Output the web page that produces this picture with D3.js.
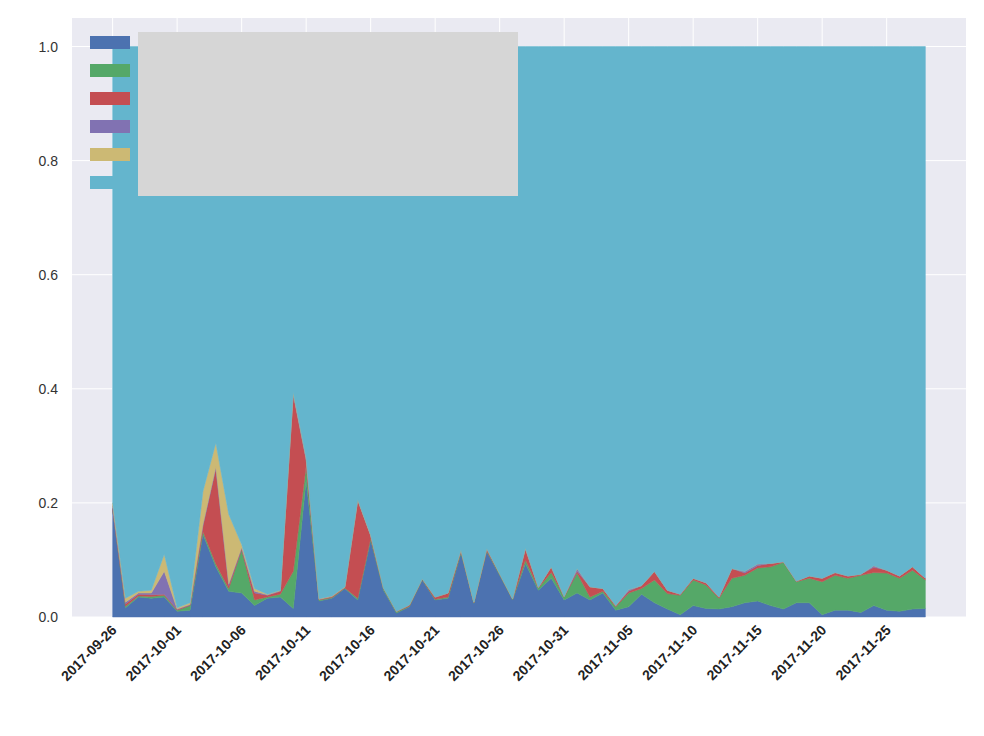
<!DOCTYPE html>
<html><head><meta charset="utf-8">
<script src="https://cdn.jsdelivr.net/npm/d3@7"></script>
<style>body{margin:0;background:#fff}</style></head>
<body><svg id="c" width="984" height="736"></svg>
<script>
const startDate = "2017-09-26";
const blue = [.19,.016,.035,.033,.035,.01,.012,.145,.088,.045,.042,.02,.033,.035,.015,.24,.028,.033,.05,.03,.135,.047,.007,.018,.065,.03,.033,.112,.024,.115,.073,.03,.094,.047,.068,.03,.042,.03,.042,.012,.018,.04,.025,.014,.004,.02,.015,.014,.018,.025,.028,.02,.014,.025,.025,.004,.012,.012,.008,.02,.012,.01,.014,.015];
const green = [0,.003,.002,.003,.003,.002,.008,.005,.005,.005,.076,.01,.002,.005,.065,.025,.002,.001,.001,.003,.003,.003,.002,.001,.001,.001,.002,.003,.001,.001,.002,.001,.006,.004,.01,.005,.035,.005,.003,.006,.024,.01,.04,.027,.034,.045,.041,.019,.05,.048,.058,.068,.082,.037,.043,.058,.061,.056,.065,.058,.065,.058,.068,.05];
const red = [0,.004,.003,.003,.002,.001,.001,.01,.167,.005,.002,.012,.003,.005,.31,.01,.001,.002,.001,.172,.005,.001,.001,.002,.001,.004,.007,.002,.001,.004,.001,.001,.02,.001,.01,.001,.003,.018,.005,.002,.003,.005,.015,.006,.002,.003,.004,.002,.017,.004,.004,.006,.001,.001,.004,.006,.005,.004,.002,.009,.005,.004,.006,.003];
const purple = [.005,.003,.002,.003,.04,.001,.001,.002,.003,.003,.002,.003,.001,.001,.002,.003,0,0,0,0,0,0,0,0,0,0,0,0,0,0,0,0,0,0,0,0,.005,0,0,0,.003,0,0,0,0,0,0,0,0,.003,.003,0,0,0,0,0,0,0,0,.003,0,0,0,0];
const yellow = [.005,.007,.003,.005,.03,.002,.003,.058,.042,.122,.005,.005,.001,.001,.002,.002,.001,.001,.001,.001,.001,0,0,0,0,0,0,.001,0,0,0,0,.001,0,0,0,0,0,0,0,0,0,0,0,0,0,0,0,0,0,0,0,0,0,0,0,0,0,0,0,0,0,0,0];
const yTicks = [0,0.2,0.4,0.6,0.8,1.0];
const colors = ["#4C72B0","#55A868","#C44E52","#8172B2","#CCB974","#64B5CD"];

const parse = d3.utcParse("%Y-%m-%d");
const t0 = parse(startDate);
const day = 864e5;
const rows = blue.map((b,i)=>{
  const r = {date:new Date(+t0+i*day), a:b, b:green[i], c:red[i], d:purple[i], e:yellow[i]};
  r.f = 1-(r.a+r.b+r.c+r.d+r.e);
  return r;
});
const keys = ["a","b","c","d","e","f"];
const L=72,R=966,T=18,B=617;
const n=rows.length-1, pad=n*0.05;
const x=d3.scaleUtc().domain([new Date(+t0-pad*day),new Date(+t0+(n+pad)*day)]).range([L,R]);
const y=d3.scaleLinear().domain([0,1.05]).range([B,T]);
const svg=d3.select("#c");
svg.append("rect").attr("x",L).attr("y",T).attr("width",R-L).attr("height",B-T).attr("fill","#EAEAF2");
const xt=d3.range(0,n+1,5).map(i=>new Date(+t0+i*day));
svg.append("g").selectAll("line").data(xt).join("line").attr("x1",d=>x(d)).attr("x2",d=>x(d)).attr("y1",T).attr("y2",B).attr("stroke","#fff").attr("stroke-width",1);
svg.append("g").selectAll("line").data(yTicks).join("line").attr("x1",L).attr("x2",R).attr("y1",d=>y(d)).attr("y2",d=>y(d)).attr("stroke","#fff").attr("stroke-width",1);
const st=d3.stack().keys(keys)(rows);
const area=d3.area().x(d=>x(d.data.date)).y0(d=>y(d[0])).y1(d=>y(d[1]));
svg.append("g").selectAll("path").data(st).join("path").attr("d",area).attr("fill",(d,i)=>colors[i]).attr("stroke",(d,i)=>colors[i]).attr("stroke-width",0.5);
svg.append("g").selectAll("text").data(yTicks).join("text").attr("x",58).attr("y",d=>y(d)+5).attr("text-anchor","end")
  .attr("font-family","Liberation Sans, Arial").attr("font-size",14).attr("fill","#333").text(d=>d.toFixed(1));
const fmt=d3.utcFormat("%Y-%m-%d");
svg.append("g").selectAll("text").data(xt).join("text").attr("transform",d=>`translate(${x(d)+5},${B+14}) rotate(-45)`).attr("text-anchor","end")
  .attr("font-family","Liberation Sans, Arial").attr("font-weight","bold").attr("font-size",14).attr("fill","#222").text(fmt);
// legend
colors.forEach((c,i)=>svg.append("rect").attr("x",90).attr("y",36+i*28).attr("width",40).attr("height",13).attr("fill",c));
svg.append("rect").attr("x",138).attr("y",32).attr("width",380).attr("height",164).attr("fill","#D6D6D6");
</script></body></html>
